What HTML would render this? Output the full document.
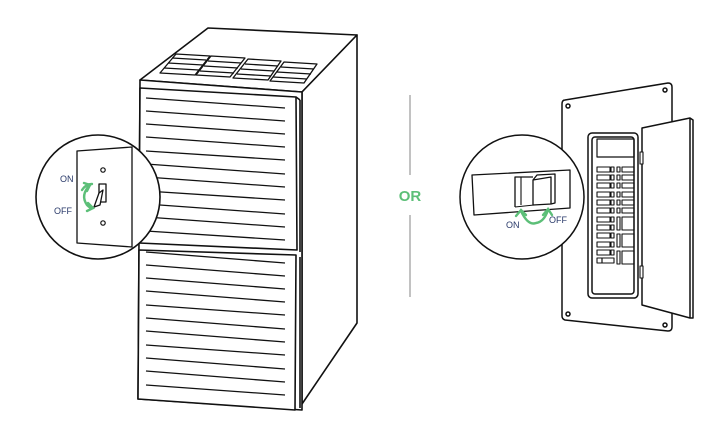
<!DOCTYPE html>
<html><head><meta charset="utf-8"><style>html,body{margin:0;padding:0;background:#fff}svg{display:block}</style></head>
<body>
<svg width="712" height="432" viewBox="0 0 712 432" xmlns="http://www.w3.org/2000/svg" font-family="Liberation Sans, sans-serif">
<g fill="none" stroke="#111" stroke-width="1.6" stroke-linejoin="round">
<!-- furnace top -->
<polygon points="140,80 208,28 357,35 302,92" fill="#fff"/>
<!-- top vents -->
<g stroke-width="1.3">
<polygon points="160,73 176,54 210,56 195,75"/>
<line x1="164" y1="68" x2="199" y2="70"/><line x1="168" y1="63" x2="203" y2="65"/><line x1="172" y1="58" x2="206" y2="60"/>
<polygon points="196,75 211,56 245,58 230,77"/>
<line x1="200" y1="71" x2="234" y2="73"/><line x1="204" y1="66" x2="238" y2="68"/><line x1="208" y1="61" x2="241" y2="63"/>
<polygon points="233,78 248,59 281,61 268,80"/>
<line x1="237" y1="74" x2="271" y2="76"/><line x1="241" y1="69" x2="274" y2="71"/><line x1="245" y1="64" x2="278" y2="66"/>
<polygon points="270,81 284,62 317,64 304,83"/>
<line x1="273" y1="77" x2="307" y2="79"/><line x1="277" y1="72" x2="311" y2="74"/><line x1="281" y1="67" x2="314" y2="69"/>
</g>
<!-- right side -->
<polygon points="302,92 357,35 357,323 302,404" fill="#fff"/>
<!-- front body -->
<polygon points="140,80 302,92 302,410 138,399" fill="#fff"/>
<!-- doors -->
<polygon points="140,88 296,97 297,250 139,243" fill="#fff"/>
<line x1="296" y1="97" x2="300" y2="100"/><line x1="300" y1="100" x2="300" y2="252"/>
<polygon points="139,250 296,255 295,410 138,399" fill="#fff"/>
<line x1="300" y1="257" x2="300" y2="408"/>
<g stroke-width="1.3">
<line x1="146" y1="98" x2="285" y2="108"/><line x1="146" y1="111" x2="285" y2="121"/><line x1="146" y1="124" x2="285" y2="134"/><line x1="146" y1="137" x2="285" y2="147"/><line x1="146" y1="151" x2="285" y2="160"/><line x1="146" y1="164" x2="285" y2="174"/><line x1="146" y1="177" x2="285" y2="187"/><line x1="146" y1="191" x2="285" y2="200"/><line x1="146" y1="204" x2="285" y2="214"/><line x1="146" y1="217" x2="285" y2="227"/><line x1="146" y1="231" x2="285" y2="240"/>
<line x1="146" y1="252" x2="285" y2="263"/><line x1="146" y1="265" x2="285" y2="276"/><line x1="146" y1="278" x2="285" y2="289"/><line x1="146" y1="291" x2="285" y2="302"/><line x1="146" y1="305" x2="285" y2="315"/><line x1="146" y1="318" x2="285" y2="329"/><line x1="146" y1="331" x2="285" y2="342"/><line x1="146" y1="345" x2="285" y2="355"/><line x1="146" y1="358" x2="285" y2="369"/><line x1="146" y1="371" x2="285" y2="382"/><line x1="146" y1="385" x2="285" y2="395"/>
</g>
<!-- left circle -->
<circle cx="98" cy="197" r="62" fill="#fff"/>
<polygon points="77,151 132,147 132,247 77,243" fill="#fff" stroke-width="1.3"/>
<circle cx="103" cy="170" r="2.2" stroke-width="1.2"/>
<circle cx="103" cy="223" r="2.2" stroke-width="1.2"/>
<rect x="99" y="184" width="7" height="18" stroke-width="1.3"/>
<path d="M99,193 L103,190 L100,205 L94,207 Z" fill="#fff" stroke-width="1.3"/>
</g>
<g fill="none" stroke="#5cbf78" stroke-width="2.4" stroke-linecap="round">
<path d="M90,185 Q80,195 87,205 Q91,209 93,208"/>
<path d="M84,183 L90,185 L87,191"/><path d="M88,203 L93,208 L87,211"/>
<path d="M82,190 Q86,184 92,184"/>
</g>
<text x="60" y="182" font-size="9" fill="#2a3a6a">ON</text>
<text x="54" y="214" font-size="9" fill="#2a3a6a">OFF</text>
<!-- OR -->
<line x1="410" y1="95" x2="410" y2="175" stroke="#999" stroke-width="1.2"/>
<line x1="410" y1="215" x2="410" y2="297" stroke="#999" stroke-width="1.2"/>
<text x="410" y="201" font-size="15" font-weight="bold" fill="#5cbf78" text-anchor="middle">OR</text>
<!-- panel -->
<g fill="none" stroke="#111" stroke-width="1.5" stroke-linejoin="round">
<path d="M565,100 L668,83 Q672,83 672,87 L672,327 Q672,331 668,331 L565,320 Q562,319 562,316 L562,104 Q562,100 565,100 Z" fill="#fff"/>
<circle cx="568" cy="106" r="2"/><circle cx="665" cy="90" r="2"/><circle cx="568" cy="314" r="2"/><circle cx="665" cy="325" r="2"/>
<rect x="588" y="133" width="50" height="165" rx="4" fill="#fff"/>
<rect x="592" y="137" width="42" height="157" rx="3"/>
<rect x="597" y="139" width="37" height="18" stroke-width="1.2"/>
<g stroke-width="1.1">
<rect x="597" y="167" width="13" height="5"/><rect x="611" y="167" width="3" height="5"/><rect x="617" y="167" width="3" height="5"/><rect x="622" y="167" width="12" height="5"/>
<rect x="597" y="175" width="13" height="5"/><rect x="611" y="175" width="3" height="5"/><rect x="617" y="175" width="3" height="5"/><rect x="622" y="175" width="12" height="5"/>
<rect x="597" y="183" width="13" height="5"/><rect x="611" y="183" width="3" height="5"/><rect x="617" y="183" width="3" height="5"/><rect x="622" y="183" width="12" height="5"/>
<rect x="597" y="192" width="13" height="5"/><rect x="611" y="192" width="3" height="5"/><rect x="617" y="192" width="3" height="5"/><rect x="622" y="192" width="12" height="5"/>
<rect x="597" y="200" width="13" height="5"/><rect x="611" y="200" width="3" height="5"/><rect x="617" y="200" width="3" height="5"/><rect x="622" y="200" width="12" height="5"/>
<rect x="597" y="208" width="13" height="5"/><rect x="611" y="208" width="3" height="5"/><rect x="617" y="208" width="3" height="5"/><rect x="622" y="208" width="12" height="5"/>
<rect x="597" y="217" width="13" height="5"/><rect x="611" y="217" width="3" height="5"/>
<rect x="597" y="225" width="13" height="5"/><rect x="611" y="225" width="3" height="5"/>
<rect x="597" y="233" width="13" height="5"/><rect x="611" y="233" width="3" height="5"/>
<rect x="597" y="242" width="13" height="5"/><rect x="611" y="242" width="3" height="5"/>
<rect x="597" y="250" width="13" height="5"/><rect x="611" y="250" width="3" height="5"/>
<rect x="597" y="258" width="5" height="5"/><rect x="602" y="258" width="12" height="5"/>
<rect x="617" y="217" width="3" height="13"/><rect x="622" y="217" width="12" height="13"/>
<rect x="617" y="234" width="3" height="13"/><rect x="622" y="234" width="12" height="13"/>
<rect x="617" y="251" width="3" height="13"/><rect x="622" y="251" width="12" height="13"/>
</g>
<path d="M642,128 L690,118 L693,120 L693,318 L690,318 L642,305 Z" fill="#fff"/>
<line x1="690" y1="118" x2="690" y2="318"/>
<rect x="640" y="152" width="3" height="12" fill="#fff" stroke-width="1.1"/>
<rect x="640" y="266" width="3" height="12" fill="#fff" stroke-width="1.1"/>
<!-- right circle -->
<circle cx="522" cy="197" r="62" fill="#fff"/>
<polygon points="472,175 570,170 570,208 474,215" fill="#fff" stroke-width="1.3"/>
<polyline points="515,207 515,177 533,177" stroke-width="1.3"/>
<line x1="521" y1="177" x2="521" y2="205" stroke-width="1.1"/>
<polyline points="515,207 534,205" stroke-width="1.1"/>
<polygon points="533,180 551,177 551,204 533,205" fill="#fff" stroke-width="1.3"/>
<polyline points="533,180 537,175 555,174 555,203 551,204" stroke-width="1.3"/>
</g>
<g fill="none" stroke="#5cbf78" stroke-width="2.4" stroke-linecap="round">
<path d="M521,211 Q528,226 536,223 Q544,222 548,210"/>
<path d="M516,216 L521,210 L526,215"/><path d="M543,215 L548,209 L552,215"/>
</g>
<text x="506" y="228" font-size="9" fill="#2a3a6a">ON</text>
<text x="549" y="223" font-size="9" fill="#2a3a6a">OFF</text>
</svg>
</body></html>
